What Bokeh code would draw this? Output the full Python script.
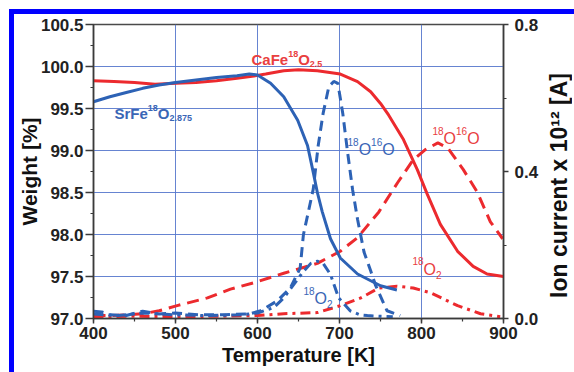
import math
from bokeh.plotting import figure
from bokeh.layouts import row
from bokeh.models import Range1d, LinearAxis, SingleIntervalTicker, Label, NumeralTickFormatter, Div
from bokeh.embed import file_html
from bokeh.resources import INLINE

# ---------------- data ----------------
# Weight (left axis, %)
T_sr = [400, 420, 440, 460, 480, 500, 525, 550, 575, 590, 600, 616, 632, 649, 661, 668, 673, 679, 689, 701, 722, 750, 770]
W_sr = [99.58, 99.64, 99.69, 99.74, 99.78, 99.81, 99.84, 99.87, 99.89, 99.91, 99.90, 99.80, 99.64, 99.36, 99.06, 98.74, 98.50, 98.27, 97.95, 97.72, 97.53, 97.39, 97.34]

T_ca = [400, 425, 450, 475, 500, 525, 550, 575, 591, 610, 632, 650, 673, 701, 722, 738, 750, 760, 778, 795, 807, 823, 844, 863, 880, 900]
W_ca = [99.83, 99.82, 99.81, 99.79, 99.80, 99.81, 99.83, 99.86, 99.88, 99.91, 99.95, 99.96, 99.95, 99.91, 99.82, 99.70, 99.56, 99.42, 99.13, 98.77, 98.48, 98.12, 97.80, 97.62, 97.53, 97.50]

# Ion current (right axis, x 10^12 A)
T_b1616 = [400, 410, 420, 440, 460, 480, 500, 530, 560, 591, 604, 624, 640, 652, 656, 662, 668, 674, 680, 687, 693, 698, 704, 710, 716, 722, 730, 738, 744, 758, 774]
I_b1616 = [0.020, 0.018, 0.010, 0.008, 0.020, 0.012, 0.015, 0.010, 0.010, 0.013, 0.021, 0.048, 0.083, 0.137, 0.228, 0.290, 0.352, 0.470, 0.558, 0.631, 0.645, 0.640, 0.558, 0.450, 0.350, 0.270, 0.180, 0.130, 0.090, 0.021, 0.008]

T_b2 = [400, 430, 460, 500, 540, 580, 600, 620, 632, 645, 655, 665, 673, 680, 689, 699, 713, 725, 734, 750, 765]
I_b2 = [0.012, 0.008, 0.015, 0.010, 0.008, 0.010, 0.015, 0.030, 0.056, 0.095, 0.125, 0.150, 0.156, 0.150, 0.120, 0.056, 0.021, 0.010, 0.008, 0.006, 0.005]

T_r1616 = [400, 420, 440, 460, 480, 502, 539, 567, 595, 632, 673, 701, 722, 748, 771, 790, 805, 820, 832, 851, 868, 884, 899]
I_r1616 = [0.008, 0.008, 0.010, 0.013, 0.021, 0.035, 0.056, 0.080, 0.097, 0.123, 0.150, 0.183, 0.220, 0.290, 0.370, 0.432, 0.460, 0.478, 0.464, 0.405, 0.344, 0.263, 0.217]

T_r2 = [400, 450, 500, 550, 600, 632, 673, 701, 726, 748, 770, 790, 811, 844, 872, 896]
I_r2 = [0.005, 0.006, 0.005, 0.006, 0.008, 0.013, 0.016, 0.035, 0.056, 0.083, 0.088, 0.083, 0.070, 0.035, 0.013, 0.005]

ION_TITLE = "Ion current x 10\u00b9\u00b2 [A]"

BLUE = "#2d62b5"
RED = "#ec2a2e"
BLUE_TXT = "#3a66b6"
RED_TXT = "#e9403f"
FONT = "Liberation Sans"

p = figure(width=527, height=358, x_range=Range1d(400, 900), y_range=Range1d(97.0, 100.5),
           output_backend="svg", toolbar_location=None,
           min_border_left=79, min_border_right=38, min_border_top=10, min_border_bottom=54,
           background_fill_color="white", border_fill_color="white")

p.extra_y_ranges = {"ion": Range1d(0.0, 0.8)}

AX = "#3a3a3a"
def style_axis(ax, tick_out, standoff):
    ax.axis_line_color = AX
    ax.axis_line_width = 1.5
    ax.major_tick_line_color = AX
    ax.minor_tick_line_color = AX
    ax.major_tick_line_width = 1.5
    ax.minor_tick_line_width = 1.2
    ax.major_tick_in = 0
    ax.major_tick_out = tick_out
    ax.minor_tick_in = 0
    ax.minor_tick_out = 3
    ax.major_label_text_font = FONT
    ax.major_label_text_font_style = "bold"
    ax.major_label_text_font_size = "17px"
    ax.major_label_text_color = "#222222"
    ax.major_label_standoff = standoff
    ax.axis_label_text_font = FONT
    ax.axis_label_text_font_style = "bold"
    ax.axis_label_text_font_size = "20px"
    ax.axis_label_text_color = "#111111"

xa = p.xaxis[0]
xa.ticker = SingleIntervalTicker(interval=100, num_minor_ticks=2)
xa.axis_label = "Temperature [K]"
style_axis(xa, 5, 3)
xa.axis_label_standoff = 2

ya = p.yaxis[0]
ya.ticker = SingleIntervalTicker(interval=0.5, num_minor_ticks=2)
ya.formatter = NumeralTickFormatter(format="0.0")
ya.axis_label = "Weight [%]"
style_axis(ya, 8, 2)
ya.axis_label_text_font_size = "21px"
ya.axis_label_standoff = -3

yr = LinearAxis(y_range_name="ion",
                ticker=SingleIntervalTicker(interval=0.4, num_minor_ticks=2),
                formatter=NumeralTickFormatter(format="0.0"))
style_axis(yr, 5, 6)
p.add_layout(yr, "right")

p.xgrid.ticker = SingleIntervalTicker(interval=100)
p.ygrid.ticker = SingleIntervalTicker(interval=0.5)
for g in (p.xgrid[0], p.ygrid[0]):
    g.grid_line_color = "#5577cc"
    g.grid_line_width = 1
    g.grid_line_alpha = 0.9

p.outline_line_color = "#4a4a4a"
p.outline_line_width = 1.5

# curves
p.line(T_r2, I_r2, y_range_name="ion", color=RED, line_width=3, line_dash="10 5 3 5")
p.line(T_r1616, I_r1616, y_range_name="ion", color=RED, line_width=3, line_dash="12 7")
p.line(T_b2, I_b2, y_range_name="ion", color=BLUE, line_width=3, line_dash="10 5 3 5")
p.line(T_b1616, I_b1616, y_range_name="ion", color=BLUE, line_width=3, line_dash="10 6")
p.line(T_ca, W_ca, color=RED, line_width=3)
p.line(T_sr, W_sr, color=BLUE, line_width=3)

# rich-text labels
WREG = {c: 0.556 for c in "0123456789"}
WREG.update({"O": 0.778, ".": 0.278})
WBOLD = dict(WREG)
WBOLD.update({"S": 0.667, "r": 0.389, "F": 0.611, "e": 0.556, "C": 0.722, "a": 0.556})

def rich(x, y, parts, color, bold):
    table = WBOLD if bold else WREG
    off = 0.0
    for txt, size, dy in parts:
        p.add_layout(Label(x=x, y=y, x_offset=off, y_offset=dy, text=txt,
                           text_font=FONT, text_font_size=f"{size}px",
                           text_font_style="bold" if bold else "normal",
                           text_color=color, text_baseline="alphabetic", text_align="left"))
        off += sum(table.get(c, 0.6) for c in txt) * size

rich(425.6, 99.443, [("SrFe", 15, 0), ("18", 9, 5), ("O", 15, 0), ("2.875", 9, -5)], BLUE_TXT, True)
rich(592.7, 100.089, [("CaFe", 15, 0), ("18", 9, 5), ("O", 15, 0), ("2.5", 9, -5)], RED_TXT, True)
rich(709.8, 99.008, [("18", 10, 8), ("O", 16, 0), ("16", 10, 8), ("O", 16, 0)], BLUE_TXT, False)
rich(813.4, 99.138, [("18", 10, 8), ("O", 16, 0), ("16", 10, 8), ("O", 16, 0)], RED_TXT, False)
rich(789.0, 97.587, [("18", 10, 8), ("O", 16, 0), ("2", 10, -6)], RED_TXT, False)
rich(656.0, 97.235, [("18", 10, 8), ("O", 16, 0), ("2", 10, -5)], BLUE_TXT, False)

# right-hand axis title, reading bottom-to-top
title_html = (
    "<div style='width:26px;height:332px;display:flex;align-items:center;justify-content:center;'>"
    "<span style=\"writing-mode:vertical-rl;transform:rotate(180deg);white-space:nowrap;"
    "font-family:'Liberation Sans';font-weight:bold;font-size:23px;color:#111111;line-height:1;\">"
    + ION_TITLE + "</span></div>"
)
d = Div(text=title_html, width=26, height=358,
        styles={"background-color": "white", "overflow": "visible"})

layout = row(p, d, spacing=0,
             styles={"margin-left": "9px", "margin-top": "9px", "background-color": "white",
                     "border-left": "5px solid #0000ff", "border-top": "5px solid #0000ff",
                     "border-right": "7px solid #0000ff"})

open("out.html", "w").write(file_html(layout, INLINE))
